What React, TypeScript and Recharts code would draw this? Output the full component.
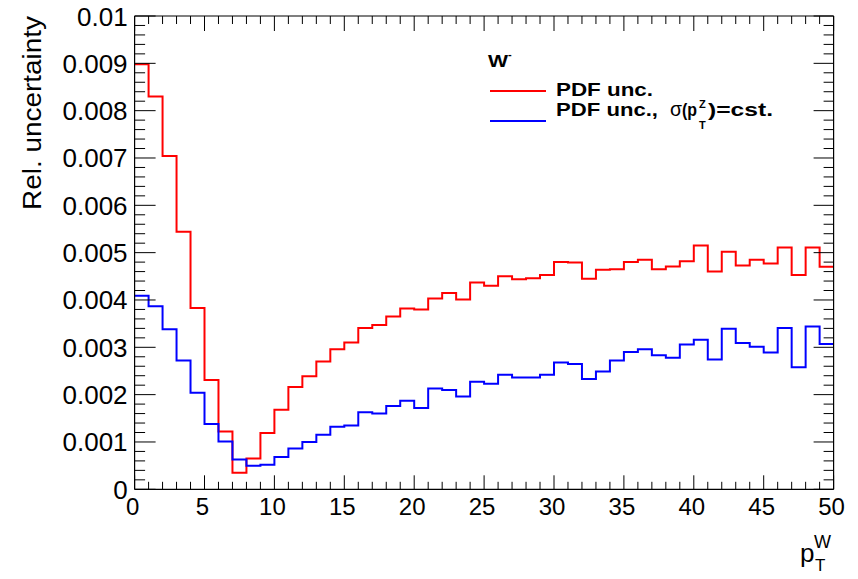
import { LineChart, Line, XAxis, YAxis, Legend } from "recharts";

// relative PDF uncertainty per 1 GeV bin of pT(W), 0..50
const PDF_UNC = [
  0.00898, 0.0083, 0.00704, 0.00544, 0.00383, 0.00231, 0.00122, 0.00035, 0.00065, 0.00119,
  0.00168, 0.00216, 0.00239, 0.0027, 0.00296, 0.0031, 0.00341, 0.00347, 0.00365, 0.00382,
  0.0038, 0.00403, 0.00415, 0.00401, 0.00437, 0.0043, 0.0045, 0.00444, 0.00446, 0.00453,
  0.0048, 0.00479, 0.00445, 0.00464, 0.00465, 0.0048, 0.00485, 0.00465, 0.00471, 0.00482,
  0.00515, 0.0046, 0.00502, 0.00473, 0.00485, 0.00477, 0.00511, 0.00453, 0.00511, 0.0047,
];

const PDF_UNC_CST = [
  0.00409, 0.00387, 0.00338, 0.00272, 0.00204, 0.00138, 0.00101, 0.00063, 0.0005, 0.00052,
  0.00068, 0.00086, 0.001, 0.00115, 0.00132, 0.00135, 0.00163, 0.0016, 0.00176, 0.00187,
  0.00172, 0.00213, 0.0021, 0.00196, 0.00227, 0.00223, 0.00242, 0.00236, 0.00236, 0.00242,
  0.00268, 0.00265, 0.00233, 0.00249, 0.00272, 0.0029, 0.00296, 0.00283, 0.00278, 0.00306,
  0.00316, 0.00274, 0.00339, 0.00309, 0.00301, 0.00289, 0.00341, 0.00258, 0.00344, 0.00307,
];

const X_MAJOR = [0, 5, 10, 15, 20, 25, 30, 35, 40, 45, 50];
const X_TICKS = Array.from({ length: 51 }, (_, i) => i);
const Y_TICKS = Array.from({ length: 51 }, (_, k) => k / 5000);

const FONT = "'Liberation Sans', Arial, Helvetica, sans-serif";
const W = 858;
const H = 579;

// stepAfter needs the closing edge at x=50
const rows = X_TICKS.map((x) => ({
  x,
  red: PDF_UNC[Math.min(x, PDF_UNC.length - 1)],
  blue: PDF_UNC_CST[Math.min(x, PDF_UNC_CST.length - 1)],
}));

const isYMajor = (v: number) => Math.round(v * 5000) % 5 === 0;
const yLabel = (v: number) => (v === 0 ? "0" : String(Math.round(v * 1000) / 1000));

function BottomTick({ x, y, payload }: any) {
  const major = X_MAJOR.includes(payload.value);
  return (
    <g>
      <line x1={x} x2={x} y1={y} y2={y - (major ? 14 : 7.5)} stroke="#000" />
      {major && (
        <text x={x - 2} y={y + 26} textAnchor="middle" fontSize={24} fontFamily={FONT} fill="#000">
          {payload.value}
        </text>
      )}
    </g>
  );
}

function TopTick({ x, y, payload }: any) {
  const major = X_MAJOR.includes(payload.value);
  return <line x1={x} x2={x} y1={y} y2={y + (major ? 15 : 8)} stroke="#000" />;
}

function LeftTick({ x, y, payload }: any) {
  const major = isYMajor(payload.value);
  return (
    <g>
      <line x1={x} x2={x + (major ? 21 : 10.5)} y1={y} y2={y} stroke="#000" />
      {major && (
        <text x={x - 7} y={y + 9.5} textAnchor="end" fontSize={26} fontFamily={FONT} fill="#000">
          {yLabel(payload.value)}
        </text>
      )}
    </g>
  );
}

function RightTick({ x, y, payload }: any) {
  const major = isYMajor(payload.value);
  return <line x1={x} x2={x - (major ? 20 : 10)} y1={y} y2={y} stroke="#000" />;
}

// legend box, drawn in its own small svg
const LEG_X = 480;
const LEG_Y = 40;

function LegendBox({ payload }: any) {
  const red = payload?.[0]?.color ?? "#ff0000";
  const blue = payload?.[1]?.color ?? "#0000ff";
  const t = { fontFamily: FONT, fontWeight: "bold" as const, fill: "#000" };
  return (
    <svg width={320} height={100} style={{ overflow: "visible" }}>
      <g transform={`translate(${-LEG_X},${-LEG_Y})`}>
        <text x={488} y={67} fontSize={16} textLength={20} lengthAdjust="spacingAndGlyphs" {...t}>
          W
        </text>
        <text x={508} y={58} fontSize={11} {...t}>
          -
        </text>

        <line x1={490} x2={546} y1={91} y2={91} stroke={red} strokeWidth={2} />
        <text x={556} y={96} fontSize={18} textLength={97} lengthAdjust="spacingAndGlyphs" {...t}>
          PDF unc.
        </text>

        <line x1={490} x2={546} y1={121} y2={121} stroke={blue} strokeWidth={2} />
        <text x={556} y={116} fontSize={18} textLength={102} lengthAdjust="spacingAndGlyphs" {...t}>
          PDF unc.,
        </text>
        <text
          x={670}
          y={116}
          fontSize={20}
          fontFamily={FONT}
          fill="#000"
          textLength={12}
          lengthAdjust="spacingAndGlyphs"
        >
          σ
        </text>
        <text x={682} y={116} fontSize={19} textLength={15} lengthAdjust="spacingAndGlyphs" {...t}>
          (p
        </text>
        <text x={699} y={108} fontSize={11} {...t}>
          Z
        </text>
        <text x={699} y={129} fontSize={11} {...t}>
          T
        </text>
        <text x={708} y={116} fontSize={18} textLength={65} lengthAdjust="spacingAndGlyphs" {...t}>
          )=cst.
        </text>
      </g>
    </svg>
  );
}

export default function App() {
  return (
    <div style={{ position: "absolute", left: 0, top: 0, background: "#fff" }}>
      <LineChart
        width={W}
        height={H}
        data={rows}
        margin={{ top: 15, right: 23.4, bottom: 59.7, left: 54.6 }}
      >
        <XAxis
          xAxisId="bottom"
          dataKey="x"
          type="number"
          domain={[0, 50]}
          allowDataOverflow
          ticks={X_TICKS}
          interval={0}
          height={30}
          tickSize={0}
          tickMargin={0}
          tickLine={false}
          tick={<BottomTick />}
          axisLine={{ stroke: "#000", strokeWidth: 1.2 }}
          label={{
            content: () => (
              <g fontFamily={FONT} fill="#000">
                <text x={800} y={562} fontSize={26}>
                  p
                </text>
                <text x={814} y={548} fontSize={18}>
                  W
                </text>
                <text x={815} y={571} fontSize={17}>
                  T
                </text>
              </g>
            ),
          }}
        />
        <XAxis
          xAxisId="top"
          dataKey="x"
          type="number"
          orientation="top"
          domain={[0, 50]}
          allowDataOverflow
          ticks={X_TICKS}
          interval={0}
          height={1}
          tickSize={0}
          tickMargin={0}
          tickLine={false}
          tick={<TopTick />}
          axisLine={{ stroke: "#000", strokeWidth: 1.2 }}
        />
        <YAxis
          yAxisId="left"
          type="number"
          domain={[0, 0.01]}
          allowDataOverflow
          ticks={Y_TICKS}
          interval={0}
          width={80}
          tickSize={0}
          tickMargin={0}
          tickLine={false}
          tick={<LeftTick />}
          axisLine={{ stroke: "#000", strokeWidth: 1.2 }}
          label={{
            content: () => (
              <text
                x={41}
                y={16}
                transform="rotate(-90, 41, 16)"
                textAnchor="end"
                fontSize={26}
                fontFamily={FONT}
                fill="#000"
                textLength={194}
                lengthAdjust="spacingAndGlyphs"
              >
                Rel. uncertainty
              </text>
            ),
          }}
        />
        <YAxis
          yAxisId="right"
          orientation="right"
          type="number"
          domain={[0, 0.01]}
          allowDataOverflow
          ticks={Y_TICKS}
          interval={0}
          width={1}
          tickSize={0}
          tickMargin={0}
          tickLine={false}
          tick={<RightTick />}
          axisLine={{ stroke: "#000", strokeWidth: 1.2 }}
        />
        <Legend
          layout="horizontal"
          verticalAlign="middle"
          align="center"
          content={<LegendBox />}
          wrapperStyle={{ position: "absolute", left: LEG_X, top: LEG_Y, width: 320, height: 100 }}
        />
        <Line
          xAxisId="bottom"
          yAxisId="left"
          type="stepAfter"
          dataKey="red"
          name="PDF unc."
          stroke="#ff0000"
          strokeWidth={2}
          dot={false}
          isAnimationActive={false}
        />
        <Line
          xAxisId="bottom"
          yAxisId="left"
          type="stepAfter"
          dataKey="blue"
          name="PDF unc., σ(pT Z)=cst."
          stroke="#0000ff"
          strokeWidth={2}
          dot={false}
          isAnimationActive={false}
        />
      </LineChart>
    </div>
  );
}
